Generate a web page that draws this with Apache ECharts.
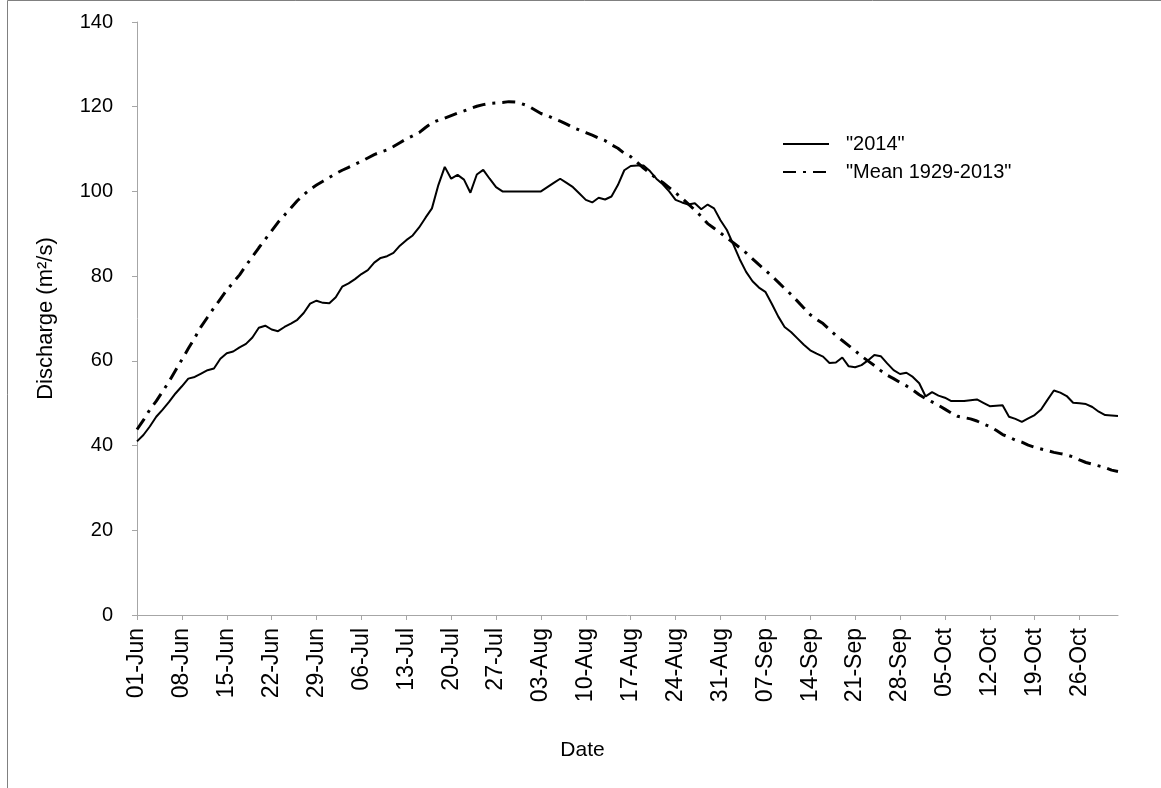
<!DOCTYPE html>
<html>
<head>
<meta charset="utf-8">
<script src="https://cdn.jsdelivr.net/npm/echarts@6/dist/echarts.min.js"></script>
<style>
  html, body { margin: 0; padding: 0; background: #fff; }
  #chart { width: 1161px; height: 788px; }
</style>
</head>
<body>
<div id="chart"></div>
<script>
// Daily discharge, 1 June to 1 November
const startDate = [2014, 5, 1];   // year, month index (June), day
const dayCount = 154;
const monthNames = ['Jan','Feb','Mar','Apr','May','Jun','Jul','Aug','Sep','Oct','Nov','Dec'];

const yTicks = { min: 0, max: 140, step: 20 };
const labelEvery = 7; // one date label per week

const series2014 = [
  41.0, 42.5, 44.5, 46.8, 48.5, 50.3, 52.3, 54.0, 55.8, 56.2,
  57.0, 57.8, 58.2, 60.5, 61.8, 62.2, 63.2, 64.0, 65.5, 67.8,
  68.3, 67.4, 67.0, 68.0, 68.8, 69.7, 71.3, 73.5, 74.2, 73.7,
  73.6, 75.0, 77.5, 78.3, 79.3, 80.5, 81.4, 83.2, 84.3, 84.7,
  85.5, 87.2, 88.5, 89.6, 91.5, 93.8, 96.0, 101.5, 105.8, 103.0,
  103.9, 102.8, 99.7, 104.0, 105.1, 103.0, 101.0, 100.0, 100.0, 100.0,
  100.0, 100.0, 100.0, 100.0, 101.0, 102.0, 103.0, 102.0, 101.0, 99.5,
  98.0, 97.4, 98.5, 98.1, 98.8, 101.5, 105.0, 106.0, 106.1, 106.1,
  104.8, 103.0, 101.7, 100.0, 98.0, 97.4, 96.9, 97.2, 95.8, 96.9,
  96.0, 93.2, 90.9, 87.5, 84.0, 81.0, 78.8, 77.3, 76.3, 73.5,
  70.5, 68.0, 66.8, 65.3, 63.8, 62.5, 61.7, 61.0, 59.5, 59.6,
  60.8, 58.7, 58.5, 59.0, 60.1, 61.4, 61.1, 59.4, 57.8, 56.9,
  57.2, 56.2, 54.7, 51.6, 52.6, 51.8, 51.3, 50.5, 50.5, 50.5,
  50.7, 50.9, 50.1, 49.3, 49.4, 49.5, 46.8, 46.3, 45.6, 46.4,
  47.2, 48.5, 50.8, 53.0, 52.5, 51.7, 50.1, 50.0, 49.8, 49.1,
  48.0, 47.2, 47.1, 47.0
];

const seriesMean = [
  43.8, 46.0, 48.5, 50.5, 52.8, 55.1, 57.7, 60.3, 62.9, 65.4,
  68.1, 70.3, 72.5, 74.6, 76.7, 78.5, 80.3, 82.5, 84.6, 86.7,
  88.7, 90.7, 92.7, 94.4, 96.1, 97.8, 99.2, 100.5, 101.5, 102.4,
  103.3, 104.2, 105.0, 105.7, 106.4, 107.1, 107.9, 108.7, 109.3, 109.8,
  110.6, 111.5, 112.4, 113.1, 113.9, 115.1, 116.2, 116.8, 117.3, 117.9,
  118.5, 119.0, 119.6, 120.1, 120.5, 120.8, 120.9, 121.0, 121.2, 121.1,
  120.7, 120.2, 119.3, 118.4, 117.9, 117.2, 116.6, 115.9, 115.1, 114.5,
  113.9, 113.3, 112.6, 112.0, 111.0, 110.2, 109.0, 108.2, 106.9, 105.5,
  104.3, 103.1, 102.1, 100.9, 99.7, 98.4, 97.0, 95.6, 94.1, 92.4,
  91.3, 90.2, 89.0, 87.9, 86.7, 85.5, 84.1, 82.7, 81.4, 80.0,
  78.6, 77.1, 75.7, 74.1, 72.5, 70.9, 69.8, 68.8, 67.4, 66.0,
  64.8, 63.6, 62.4, 61.1, 60.0, 58.9, 57.7, 56.6, 55.8, 54.9,
  54.1, 53.1, 52.0, 51.1, 50.3, 49.5, 48.6, 47.7, 46.9, 46.6,
  46.3, 45.8, 45.1, 44.5, 43.6, 42.6, 42.0, 41.3, 40.8, 40.1,
  39.6, 39.2, 38.8, 38.4, 38.1, 37.8, 37.3, 36.6, 36.0, 35.6,
  35.2, 34.8, 34.2, 33.9
];

const seriesNames = ['"2014"', '"Mean 1929-2013"'];

// Category labels such as "01-Jun"
function buildDates() {
  const out = [];
  const d = new Date(Date.UTC(startDate[0], startDate[1], startDate[2]));
  for (let i = 0; i < dayCount; i++) {
    const dd = String(d.getUTCDate()).padStart(2, '0');
    out.push(dd + '-' + monthNames[d.getUTCMonth()]);
    d.setUTCDate(d.getUTCDate() + 1);
  }
  return out;
}
const dates = buildDates();

const FONT = 'Liberation Sans, Arial, sans-serif';
const AXIS_GREY = '#a6a6a6';

const chart = echarts.init(document.getElementById('chart'), null, { renderer: 'canvas' });

chart.setOption({
  animation: false,
  backgroundColor: '#fff',
  textStyle: { fontFamily: FONT },
  grid: { left: 137, right: 43, top: 22, bottom: 173 },
  legend: {
    orient: 'vertical',
    left: 777,
    top: 129,
    itemWidth: 46,
    itemHeight: 10,
    itemGap: 8,
    itemStyle: { opacity: 0 },
    textStyle: { fontFamily: FONT, fontSize: 20, color: '#000', padding: [0, 0, 0, 12] },
    data: seriesNames
  },
  xAxis: {
    type: 'category',
    data: dates,
    boundaryGap: false,
    name: 'Date',
    nameLocation: 'middle',
    nameGap: 125,
    nameTextStyle: { fontFamily: FONT, fontSize: 21, color: '#000', padding: [0, 90, 0, 0] },
    axisLine: { lineStyle: { color: AXIS_GREY, width: 1 } },
    axisTick: { show: true, interval: labelEvery - 1, length: 5, lineStyle: { color: AXIS_GREY } },
    axisLabel: {
      interval: labelEvery - 1,
      rotate: 90,
      margin: 13,
      fontFamily: FONT,
      fontSize: 23,
      color: '#000',
      padding: [8, 0, 0, 0]
    },
    splitLine: { show: false }
  },
  yAxis: {
    type: 'value',
    min: yTicks.min,
    max: yTicks.max,
    interval: yTicks.step,
    name: 'Discharge (m\u00B2/s)',
    nameLocation: 'middle',
    nameGap: 80,
    nameRotate: 90,
    nameTextStyle: { fontFamily: FONT, fontSize: 22, color: '#000' },
    axisLine: { show: true, lineStyle: { color: AXIS_GREY, width: 1 } },
    axisTick: { show: true, length: 5, lineStyle: { color: AXIS_GREY } },
    axisLabel: { margin: 24, fontFamily: FONT, fontSize: 20, color: '#000' },
    splitLine: { show: false }
  },
  series: [
    {
      name: seriesNames[0],
      type: 'line',
      data: series2014,
      symbol: 'none',
      lineStyle: { color: '#000', width: 2 },
      itemStyle: { color: '#000' },
      z: 2
    },
    {
      name: seriesNames[1],
      type: 'line',
      data: seriesMean,
      symbol: 'none',
      lineStyle: { color: '#000', width: 3, type: [13, 7, 3, 7] },
      itemStyle: { color: '#000' },
      z: 3
    }
  ],
  graphic: [
    {
      type: 'polyline',
      shape: { points: [[7.5, 788], [7.5, 0.5], [1161, 0.5]] },
      style: { stroke: '#808080', lineWidth: 1, fill: null },
      silent: true
    }
  ]
});
</script>
</body>
</html>
